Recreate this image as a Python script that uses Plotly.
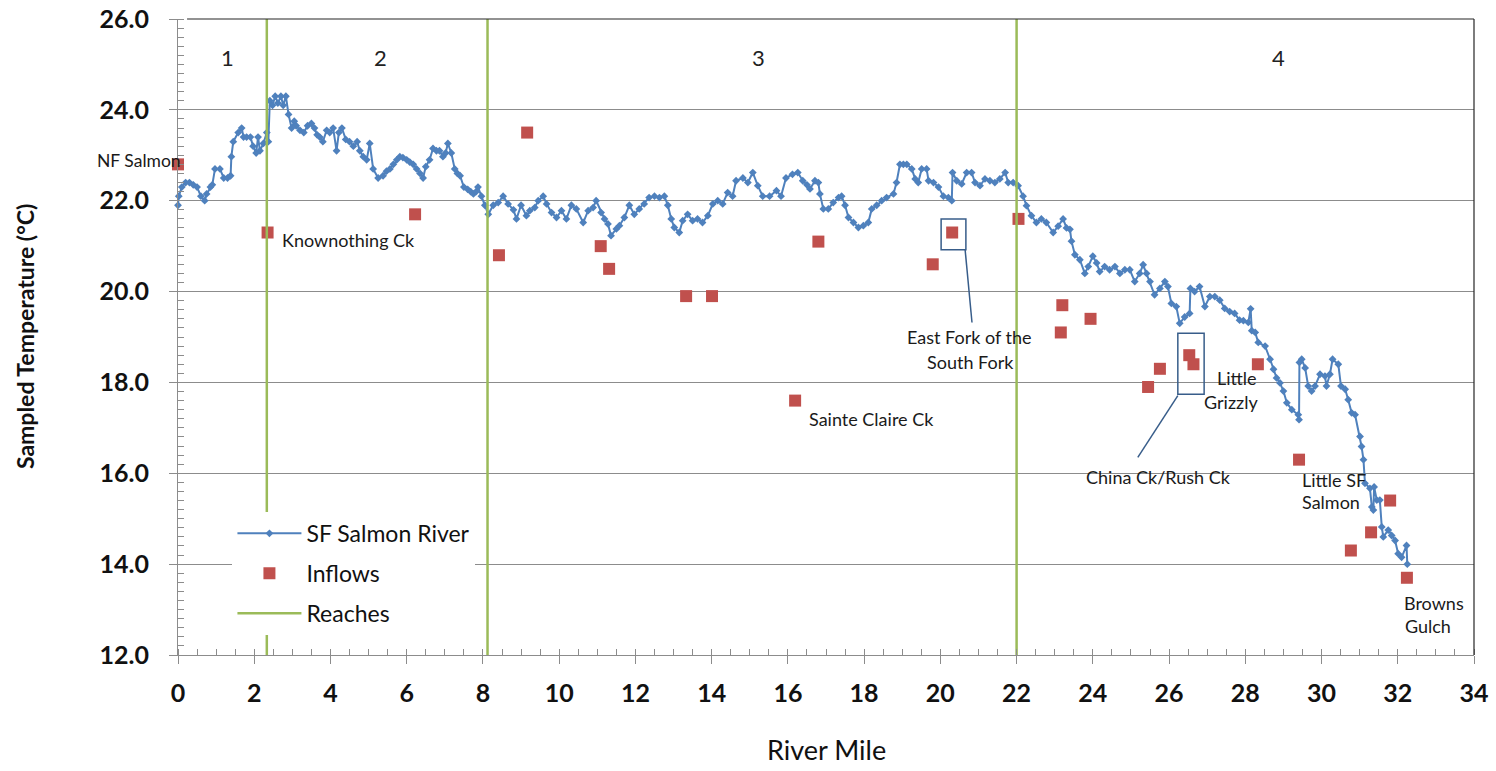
import plotly.graph_objects as go

# ---------------- data ----------------
river_mile = [0.00, 0.02, 0.10, 0.20, 0.30, 0.40, 0.50, 0.60, 0.70, 0.75, 0.85, 0.90, 0.97, 1.10, 1.20, 1.30,
              1.38, 1.40, 1.45, 1.58, 1.67, 1.72, 1.80, 1.90, 1.97, 2.05, 2.10, 2.15, 2.24, 2.33, 2.37, 2.41,
              2.48, 2.55, 2.62, 2.70, 2.76, 2.83, 2.90, 2.98, 3.05, 3.10, 3.20, 3.30, 3.40, 3.50, 3.58, 3.65,
              3.72, 3.80, 3.90, 3.98, 4.07, 4.16, 4.22, 4.30, 4.40, 4.50, 4.60, 4.70, 4.77, 4.86, 4.95, 5.03,
              5.12, 5.25, 5.38, 5.47, 5.56, 5.65, 5.74, 5.82, 5.90, 6.00, 6.08, 6.17, 6.26, 6.35, 6.43, 6.50,
              6.60, 6.69, 6.78, 6.86, 6.95, 7.02, 7.08, 7.17, 7.26, 7.33, 7.40, 7.50, 7.60, 7.68, 7.75, 7.82,
              7.87, 7.96, 8.05, 8.14, 8.27, 8.40, 8.53, 8.66, 8.80, 8.88, 9.00, 9.14, 9.23, 9.36, 9.45, 9.58,
              9.67, 9.80, 9.93, 10.06, 10.19, 10.32, 10.45, 10.63, 10.76, 10.89, 10.97, 11.10, 11.19, 11.28,
              11.36, 11.50, 11.58, 11.71, 11.84, 11.97, 12.10, 12.23, 12.36, 12.50, 12.63, 12.76, 12.85, 12.94,
              13.02, 13.15, 13.24, 13.37, 13.50, 13.63, 13.76, 13.90, 14.03, 14.16, 14.29, 14.42, 14.55, 14.64,
              14.82, 14.95, 15.08, 15.21, 15.34, 15.52, 15.70, 15.82, 15.95, 16.12, 16.26, 16.39, 16.50, 16.58,
              16.71, 16.80, 16.84, 16.93, 17.06, 17.19, 17.33, 17.41, 17.50, 17.59, 17.72, 17.85, 17.98, 18.11,
              18.20, 18.33, 18.46, 18.59, 18.77, 18.85, 18.94, 19.03, 19.12, 19.25, 19.34, 19.42, 19.51, 19.64,
              19.69, 19.82, 19.95, 20.08, 20.21, 20.30, 20.32, 20.43, 20.56, 20.69, 20.82, 20.91, 21.04, 21.17,
              21.30, 21.43, 21.56, 21.70, 21.78, 21.91, 22.04, 22.17, 22.26, 22.39, 22.52, 22.65, 22.78, 22.96,
              23.09, 23.22, 23.31, 23.40, 23.44, 23.53, 23.66, 23.79, 23.88, 24.00, 24.10, 24.18, 24.31, 24.44,
              24.58, 24.71, 24.84, 24.97, 25.10, 25.23, 25.32, 25.41, 25.50, 25.62, 25.76, 25.89, 25.97, 26.06,
              26.19, 26.28, 26.41, 26.54, 26.56, 26.67, 26.80, 26.94, 27.07, 27.20, 27.33, 27.46, 27.59, 27.72,
              27.85, 27.95, 28.08, 28.14, 28.17, 28.26, 28.34, 28.52, 28.65, 28.74, 28.82, 28.91, 29.00, 29.09,
              29.22, 29.39, 29.41, 29.42, 29.48, 29.57, 29.65, 29.74, 29.83, 29.96, 30.09, 30.13, 30.22, 30.29,
              30.44, 30.51, 30.62, 30.70, 30.79, 30.88, 31.01, 31.05, 31.10, 31.14, 31.27, 31.32, 31.36, 31.38,
              31.45, 31.53, 31.58, 31.62, 31.75, 31.84, 31.93, 32.01, 32.10, 32.23, 32.25]
river_temp = [21.9, 22.1, 22.3, 22.4, 22.4, 22.35, 22.3, 22.1, 22.0, 22.15, 22.3, 22.35, 22.7, 22.7, 22.5, 22.5,
              22.55, 22.97, 23.3, 23.5, 23.6, 23.4, 23.4, 23.4, 23.2, 23.05, 23.4, 23.1, 23.26, 23.5, 23.3, 24.2,
              24.1, 24.3, 24.15, 24.3, 24.1, 24.3, 23.9, 23.6, 23.75, 23.65, 23.55, 23.5, 23.65, 23.7, 23.6, 23.45,
              23.4, 23.3, 23.55, 23.5, 23.6, 23.1, 23.5, 23.6, 23.35, 23.3, 23.2, 23.3, 23.1, 22.97, 22.9, 23.26,
              22.7, 22.5, 22.55, 22.65, 22.7, 22.8, 22.9, 22.97, 22.95, 22.9, 22.85, 22.8, 22.7, 22.6, 22.5, 22.75,
              22.9, 23.15, 23.1, 23.1, 22.97, 23.05, 23.26, 23.05, 22.7, 22.6, 22.55, 22.3, 22.25, 22.2, 22.15, 22.2,
              22.3, 22.1, 21.9, 21.7, 21.9, 21.96, 22.1, 21.93, 21.8, 21.6, 21.9, 21.67, 21.78, 21.85, 22.0, 22.1,
              21.93, 21.74, 21.63, 21.78, 21.6, 21.9, 21.82, 21.52, 21.78, 21.85, 22.0, 21.74, 21.6, 21.49,
              21.23, 21.38, 21.45, 21.63, 21.9, 21.7, 21.82, 21.93, 22.07, 22.1, 22.07, 22.1, 21.9, 21.6,
              21.41, 21.3, 21.56, 21.7, 21.56, 21.6, 21.52, 21.67, 21.93, 22.0, 21.93, 22.18, 22.1, 22.44,
              22.5, 22.4, 22.62, 22.33, 22.1, 22.1, 22.22, 22.1, 22.5, 22.58, 22.62, 22.44, 22.35, 22.26,
              22.44, 22.4, 22.15, 21.82, 21.82, 21.96, 22.07, 22.1, 21.9, 21.63, 21.52, 21.41, 21.45, 21.52,
              21.82, 21.9, 22.0, 22.07, 22.15, 22.4, 22.8, 22.8, 22.8, 22.7, 22.48, 22.4, 22.7, 22.7,
              22.44, 22.4, 22.3, 22.1, 22.07, 22.0, 22.62, 22.44, 22.37, 22.62, 22.62, 22.4, 22.33, 22.48,
              22.44, 22.4, 22.48, 22.62, 22.4, 22.4, 22.33, 22.1, 21.89, 21.67, 21.52, 21.6, 21.52, 21.3,
              21.44, 21.6, 21.4, 21.37, 21.11, 20.81, 20.7, 20.4, 20.55, 20.78, 20.63, 20.44, 20.55, 20.48,
              20.55, 20.4, 20.48, 20.48, 20.22, 20.4, 20.59, 20.4, 20.22, 19.93, 20.07, 20.22, 20.11, 19.74,
              19.67, 19.3, 19.44, 19.52, 20.07, 20.0, 20.11, 19.67, 19.89, 19.89, 19.81, 19.63, 19.56, 19.52,
              19.37, 19.36, 19.32, 19.62, 19.14, 19.1, 18.88, 18.8, 18.51, 18.29, 18.1, 17.99, 17.81, 17.55,
              17.4, 17.29, 17.18, 18.44, 18.51, 18.32, 17.92, 17.81, 17.92, 18.18, 18.14, 17.92, 18.18, 18.51,
              18.4, 17.92, 17.85, 17.62, 17.33, 17.29, 16.81, 16.59, 16.3, 15.78, 15.67, 15.26, 15.19, 15.7,
              15.41, 15.41, 14.82, 14.6, 14.75, 14.63, 14.52, 14.23, 14.15, 14.41, 14.0]

inflow_mile = [0.0, 2.35, 6.22, 8.42, 9.16, 11.09, 11.31, 13.33, 14.01, 16.19, 16.8, 19.8, 20.31, 22.05,
               23.2, 23.16, 23.94, 25.45, 25.76, 26.53, 26.64, 28.33, 29.41, 30.77, 31.3, 31.8, 32.24]
inflow_temp = [22.8, 21.3, 21.7, 20.8, 23.5, 21.0, 20.5, 19.9, 19.9, 17.6, 21.1, 20.6, 21.3, 21.6,
               19.7, 19.1, 19.4, 17.9, 18.3, 18.6, 18.4, 18.4, 16.3, 14.3, 14.7, 15.4, 13.7]

reach_bounds = [2.33, 8.12, 22.0]
reach_labels = ["1", "2", "3", "4"]
reach_label_mile = [1.31, 5.3, 15.24, 28.88]

y_min, y_max = 12, 26
x_min, x_max = 0, 34

FONT = "Lato"
BLUE = "#4F81BD"
RED = "#C0504D"
GREEN = "#9BBB59"
GRID = "#8C8C8C"

# ---------------- figure ----------------
fig = go.Figure()

reach_x, reach_y = [], []
for b in reach_bounds:
    reach_x += [b, b, None]
    reach_y += [y_min, y_max, None]

fig.add_trace(go.Scatter(
    x=river_mile, y=river_temp, mode="lines+markers", name="SF Salmon River",
    line=dict(color=BLUE, width=2),
    marker=dict(symbol="diamond", size=6, color=BLUE),
    legendgroup="a", cliponaxis=False))
fig.add_trace(go.Scatter(
    x=inflow_mile, y=inflow_temp, mode="markers", name="Inflows",
    marker=dict(symbol="square", size=12, color=RED),
    legendgroup="b", cliponaxis=False))
fig.add_trace(go.Scatter(
    x=reach_x, y=reach_y, mode="lines", name="Reaches",
    line=dict(color=GREEN, width=2.5), legendgroup="c"))

# reach numbers
for lab, xm in zip(reach_labels, reach_label_mile):
    fig.add_annotation(x=xm, y=25.16, text=lab, showarrow=False,
                       font=dict(family=FONT, size=22, color="#222"))

labels = [
    # text, x, y, xanchor
    ("Knownothing Ck", 2.68, 21.14, "left"),
    ("East Fork of the", 20.76, 18.99, "center"),
    ("South Fork", 20.78, 18.46, "center"),
    ("Sainte Claire Ck", 16.50, 17.19, "left"),
    ("Little", 27.78, 18.09, "center"),
    ("Grizzly", 27.62, 17.58, "center"),
    ("China Ck/Rush Ck", 25.71, 15.91, "center"),
    ("Little SF", 29.44, 15.85, "left"),
    ("Salmon", 29.44, 15.36, "left"),
    ("Browns", 32.95, 13.14, "center"),
    ("Gulch", 32.79, 12.64, "center"),
]
for t, xx, yy, xa in labels:
    fig.add_annotation(x=xx, y=yy, text=t, showarrow=False, xanchor=xa,
                       font=dict(family=FONT, size=18, color="#1a1a1a"))

fig.add_annotation(xref="paper", yref="paper", x=0.004, y=0.797, xanchor="right",
                   text="NF Salmon", showarrow=False,
                   font=dict(family=FONT, size=17.5, color="#1a1a1a"))

# callout boxes
BOX = "#385D8A"
fig.add_shape(type="rect", x0=20.02, x1=20.67, y0=20.92, y1=21.6, line=dict(color=BOX, width=1.5))
fig.add_shape(type="line", x0=20.65, x1=20.83, y0=20.92, y1=19.32, line=dict(color=BOX, width=1.5))
fig.add_shape(type="rect", x0=26.23, x1=26.92, y0=17.74, y1=19.08, line=dict(color=BOX, width=1.5))
fig.add_shape(type="line", x0=26.23, x1=25.18, y0=17.71, y1=16.35, line=dict(color=BOX, width=1.5))

# frame top & right
fig.add_shape(type="line", xref="paper", yref="paper", x0=0.007, x1=1, y0=1, y1=1,
              line=dict(color="#262626", width=1.2))
fig.add_shape(type="line", xref="paper", yref="paper", x0=1, x1=1, y0=0, y1=1,
              line=dict(color="#262626", width=1.2))

# axis titles
fig.add_annotation(xref="paper", yref="paper", x=0.5, y=-0.148, yanchor="middle", xanchor="center",
                   text="River Mile", showarrow=False,
                   font=dict(family=FONT, size=27, color="#111"))
fig.add_annotation(xref="paper", yref="paper", x=-0.118, y=0.5, textangle=-90,
                   xanchor="center", yanchor="middle",
                   text="Sampled Temperature (°C)", showarrow=False,
                   font=dict(family=FONT, size=23, color="#111", weight="bold"))

fig.update_xaxes(range=[x_min, x_max], dtick=2, tick0=0, showgrid=False, zeroline=False,
                 automargin=False,
                 showline=True, linecolor=GRID, linewidth=1,
                 ticks="outside", ticklen=8, tickcolor=GRID,
                 tickfont=dict(family=FONT, size=25, color="#111", weight="bold"),
                 ticklabelstandoff=8, ticklabeloverflow="allow",
                 minor=dict(dtick=0.5, ticks="inside", ticklen=6, tickcolor=GRID, showgrid=False))
fig.update_yaxes(range=[y_min, y_max], dtick=2, tick0=12, tickformat=".1f",
                 showgrid=True, gridcolor=GRID, gridwidth=1, zeroline=False,
                 automargin=False,
                 showline=True, linecolor=GRID, linewidth=1,
                 ticks="outside", ticklen=8, tickcolor=GRID,
                 tickfont=dict(family=FONT, size=25, color="#111", weight="bold"),
                 ticklabelstandoff=15, ticklabeloverflow="allow",
                 minor=dict(dtick=0.2, ticks="inside", ticklen=6, tickcolor=GRID, showgrid=False))

fig.update_layout(
    width=1496, height=771,
    margin=dict(l=178, r=22, t=19, b=116, autoexpand=False),
    paper_bgcolor="white", plot_bgcolor="white",
    font=dict(family=FONT),
    showlegend=True,
    legend=dict(x=0.042, y=0.225, xanchor="left", yanchor="top",
                bgcolor="white", borderwidth=0,
                font=dict(family=FONT, size=23, color="#111"),
                traceorder="grouped", tracegroupgap=7, itemwidth=64),
)

fig.write_html("out.html", config={"displayModeBar": False},
               post_script="document.body.style.margin='0px';")
